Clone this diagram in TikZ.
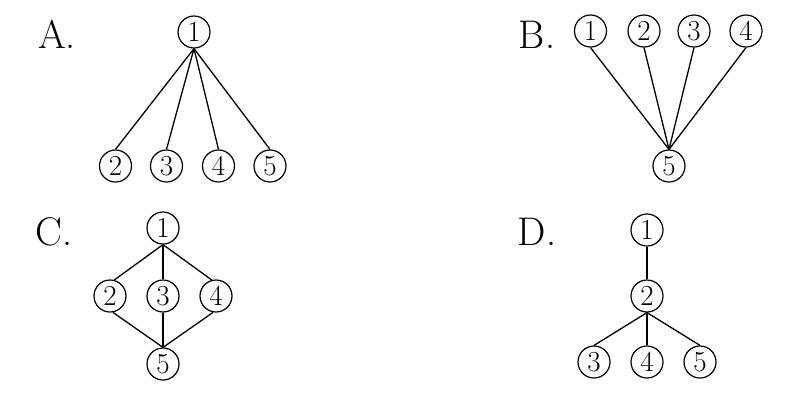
\documentclass[tikz,border=0pt]{standalone}
\usepackage{fontspec}
\begin{document}
\begin{tikzpicture}[x=1pt,y=-1pt,
  cnode/.style={circle,draw,line width=1.2pt,minimum size=32pt,inner sep=0pt,font=\fontsize{29}{29}\selectfont},
  lab/.style={font=\fontsize{40}{40}\selectfont,anchor=center},
  edge/.style={line width=1.3pt}]
\useasboundingbox (0,0) rectangle (792,400);
% A
\node[lab] (la) at (57,34) {A.};
\node[cnode] (a1) at (194,32) {1};
\node[cnode] (a2) at (115.5,166) {2};
\node[cnode] (a3) at (166.5,166) {3};
\node[cnode] (a4) at (218.5,166) {4};
\node[cnode] (a5) at (270,166) {5};
\foreach \n in {a2,a3,a4,a5} \draw[edge] (a1.south) -- (\n.north);
% B
\node[lab] (lb) at (537,35) {B.};
\node[cnode] (b1) at (590.5,31) {1};
\node[cnode] (b2) at (644,31) {2};
\node[cnode] (b3) at (694,31) {3};
\node[cnode] (b4) at (746,31) {4};
\node[cnode] (b5) at (669,166) {5};
\foreach \n in {b1,b2,b3,b4} \draw[edge] (\n.south) -- (b5.north);
% C
\node[lab] (lc) at (54,232) {C.};
\node[cnode] (c1) at (163,228) {1};
\node[cnode] (c2) at (110,296) {2};
\node[cnode] (c3) at (163,296) {3};
\node[cnode] (c4) at (216,296) {4};
\node[cnode] (c5) at (163,364) {5};
\draw[edge] (c1.south) -- (c2.75);
\draw[edge] (c1.south) -- (c3.north);
\draw[edge] (c1.south) -- (c4.105);
\draw[edge] (c2.-80) -- (c5.north);
\draw[edge] (c3.south) -- (c5.north);
\draw[edge] (c4.-100) -- (c5.north);
% D
\node[lab] (ld) at (537,232) {D.};
\node[cnode] (d1) at (647,230) {1};
\node[cnode] (d2) at (647,296) {2};
\node[cnode] (d3) at (594,362) {3};
\node[cnode] (d4) at (647,362) {4};
\node[cnode] (d5) at (700,362) {5};
\draw[edge] (d1.south) -- (d2.north);
\foreach \n in {d3,d4,d5} \draw[edge] (d2.south) -- (\n.north);
\end{tikzpicture}
\end{document}
